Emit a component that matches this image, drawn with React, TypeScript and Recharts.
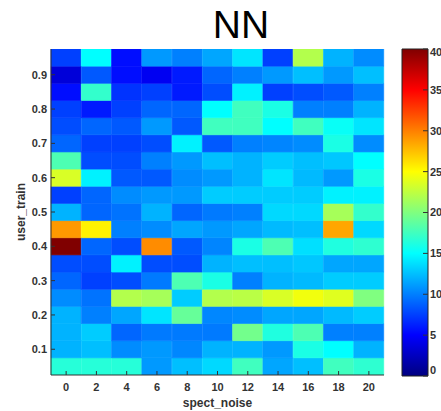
import React from 'react';
import { BarChart, Bar, XAxis, YAxis, Cell } from 'recharts';

// spect_noise categories (columns) and user_train rows (bottom to top)
const xCats = ['0', '2', '4', '6', '8', '10', '12', '14', '16', '18', '20'];
const yRows = [0.05, 0.1, 0.15, 0.2, 0.25, 0.3, 0.35, 0.4, 0.45, 0.5, 0.55, 0.6, 0.65, 0.7, 0.75, 0.8, 0.85, 0.9, 0.95];
const yTicks = [0.1, 0.2, 0.3, 0.4, 0.5, 0.6, 0.7, 0.8, 0.9];
const cbTicks = [0, 5, 10, 15, 20, 25, 30, 35, 40];

// cell values per row
const r05 = [16.5, 16.5, 16.5, 11, 12.5, 13.5, 17.5, 11.5, 12.5, 17.5, 16.8];
const r10 = [12, 12.5, 10.5, 11, 10.3, 12, 12, 11, 16, 15, 12];
const r15 = [12, 13, 9, 9.8, 9.8, 9.8, 19.5, 16.2, 18, 10, 10];
const r20 = [12, 10, 11.5, 14, 19, 10.3, 10.5, 11.5, 11.5, 12.3, 13];
const r25 = [10.5, 9.5, 22, 21.5, 13, 22, 22.3, 23.5, 24.5, 23.8, 20];
const r30 = [9, 7.5, 8, 9.8, 18, 16, 10, 12, 12.3, 13, 13];
const r35 = [8, 8, 14.5, 8, 8, 12, 12.5, 12.5, 12.8, 11.5, 11.5];
const r40 = [40, 9, 8, 29.5, 8.5, 10.2, 16, 18, 13.8, 16.2, 16.8];
const r45 = [29, 25.5, 10, 10.5, 11.5, 11, 11.5, 12.3, 12.5, 28.5, 13.5];
const r50 = [12, 9, 9.5, 12, 9, 9.8, 10, 13.5, 13.5, 21.5, 17];
const r55 = [7.5, 9, 10.5, 11, 11, 13, 13, 13, 13, 14.5, 14.5];
const r60 = [23.5, 14.5, 8.5, 8.5, 10.5, 11, 12, 14, 12.3, 11, 16];
const r65 = [18, 8, 8, 10, 11, 12.5, 12, 13, 12.5, 12.8, 15];
const r70 = [9, 7.5, 7.5, 8, 14.5, 8.5, 10, 10.2, 10.5, 16, 10.5];
const r75 = [8, 9, 8.5, 11, 8.5, 17.5, 17.5, 15, 17.5, 15.3, 14];
const r80 = [7.5, 6, 7.5, 9, 9, 15, 17.5, 16, 10, 10, 12];
const r85 = [5.5, 17, 7, 7.5, 6, 8, 14.5, 7.5, 8, 8.5, 10];
const r90 = [3.5, 8.5, 5.5, 4.5, 6, 9, 10, 11, 12.5, 11, 12.5];
const r95 = [7.5, 15, 5.5, 11, 10, 11.5, 14, 7.5, 22, 12, 10.5];
const rows = [r05, r10, r15, r20, r25, r30, r35, r40, r45, r50, r55, r60, r65, r70, r75, r80, r85, r90, r95];

const cMax = cbTicks[cbTicks.length - 1];

// matlab jet colormap
const jet = (v: number) => {
  const t = Math.min(1, Math.max(0, v / cMax));
  const ch = (c: number) => Math.round(255 * Math.min(1, Math.max(0, 1.5 - Math.abs(4 * t - c))));
  return `rgb(${ch(3)},${ch(2)},${ch(1)})`;
};

const step = yRows[1] - yRows[0];
const yLo = yRows[0] - step / 2;
const yHi = yRows[yRows.length - 1] + step / 2;

const tableData = xCats.map((x) => {
  const d: Record<string, number | string> = { x, base: yLo };
  yRows.forEach((_, i) => {
    d['r' + i] = step;
  });
  return d;
});

const cbData = [{ name: 'cb', v: cMax }];
const gradStops = [0, 0.125, 0.375, 0.625, 0.875, 1];

const tickStyle = {
  fill: '#333',
  fontSize: 11,
  fontWeight: 'bold',
  fontFamily: 'Liberation Sans, Arial, sans-serif',
};
const labelStyle = { ...tickStyle, fontSize: 12 };
const blank = () => '';

const W = 441;
const H = 411;
const mainMargin = { top: 49, right: 57, bottom: 0, left: 0 };
const abs = (left: number): React.CSSProperties => ({ position: 'absolute', left, top: 0 });

// the cells, axes only reserve space here
const Cells = () => (
  <BarChart width={W} height={H} data={tableData} margin={mainMargin} barCategoryGap={0} barGap={0}>
    <Bar dataKey="base" stackId="s" xAxisId="b" yAxisId="l" fill="none" isAnimationActive={false} />
    {yRows.map((y, ri) => (
      <Bar key={y} dataKey={'r' + ri} stackId="s" xAxisId="b" yAxisId="l" isAnimationActive={false}>
        {xCats.map((x, ci) => (
          <Cell key={x} fill={jet(rows[ri][ci])} stroke={jet(rows[ri][ci])} strokeWidth={0.6} />
        ))}
      </Bar>
    ))}
    <XAxis dataKey="x" xAxisId="b" height={36} tick={false} tickLine={false} axisLine={false} />
    <YAxis yAxisId="l" type="number" domain={[yLo, yHi]} allowDataOverflow width={51} tick={false} tickLine={false} axisLine={false} />
  </BarChart>
);

// box, inward ticks and labels drawn over the cells
const Frame = () => (
  <BarChart width={W} height={H} data={tableData} margin={mainMargin} barCategoryGap={0} barGap={0}>
    <Bar dataKey="base" xAxisId="b" yAxisId="l" fill="none" isAnimationActive={false} />
    <Bar dataKey="base" xAxisId="t" yAxisId="r" fill="none" isAnimationActive={false} />
    <XAxis
      dataKey="x"
      xAxisId="b"
      interval={0}
      height={36}
      tickSize={-4}
      tickMargin={12}
      tick={tickStyle}
      stroke="#333"
      label={{ value: 'spect_noise', position: 'insideBottom', offset: 4, style: labelStyle }}
    />
    <XAxis dataKey="x" xAxisId="t" orientation="top" interval={0} height={0} tickSize={-4} tickFormatter={blank} stroke="#333" />
    <YAxis
      yAxisId="l"
      type="number"
      domain={[yLo, yHi]}
      allowDataOverflow
      ticks={yTicks}
      width={51}
      tickSize={-4}
      tickMargin={8}
      tick={tickStyle}
      stroke="#333"
      label={{
        value: 'user_train',
        angle: -90,
        position: 'insideLeft',
        offset: 21,
        style: { ...labelStyle, textAnchor: 'middle' },
      }}
    />
    <YAxis
      yAxisId="r"
      orientation="right"
      type="number"
      domain={[yLo, yHi]}
      allowDataOverflow
      ticks={yTicks}
      width={0}
      tickSize={-4}
      tickFormatter={blank}
      stroke="#333"
    />
  </BarChart>
);

const cbMargin = { top: 49, right: 0, bottom: 35, left: 22 };

// end labels of the colour bar sit slightly inside, like matlab draws them
const CbTick = (props: any) => {
  const { x, y, payload } = props;
  const v = payload.value;
  const shift = v === cbTicks[0] ? -6 : v === cMax ? 3 : 0;
  return (
    <text x={x} y={y + shift} dy="0.355em" textAnchor="start" style={tickStyle}>
      {v}
    </text>
  );
};

const ColorBar = () => (
  <BarChart width={61} height={H} data={cbData} margin={{ ...cbMargin, right: 13 }} barCategoryGap={0}>
    <defs>
      <linearGradient id="jetGrad" x1="0" y1="1" x2="0" y2="0">
        {gradStops.map((s) => (
          <stop key={s} offset={s} stopColor={jet(s * cMax)} />
        ))}
      </linearGradient>
    </defs>
    <Bar dataKey="v" yAxisId="cl" fill="url(#jetGrad)" stroke="#222" isAnimationActive={false} />
    <XAxis dataKey="name" hide />
    <YAxis yAxisId="cl" domain={[0, cMax]} width={0} tick={false} tickLine={false} axisLine={false} />
  </BarChart>
);

const ColorBarTicks = () => (
  <BarChart width={61} height={H} data={cbData} margin={cbMargin} barCategoryGap={0}>
    <Bar dataKey="v" yAxisId="cl" fill="none" isAnimationActive={false} />
    <Bar dataKey="v" yAxisId="cr" fill="none" isAnimationActive={false} />
    <XAxis dataKey="name" hide />
    <YAxis yAxisId="cl" domain={[0, cMax]} ticks={cbTicks} width={0} tickSize={-5} tickFormatter={blank} axisLine={false} stroke="#333" />
    <YAxis
      yAxisId="cr"
      orientation="right"
      domain={[0, cMax]}
      ticks={cbTicks}
      width={13}
      tickSize={-5}
      tickMargin={7}
      tick={<CbTick />}
      axisLine={false}
      stroke="#333"
    />
  </BarChart>
);

export default function App() {
  return (
    <div>
      <div
        style={{
          position: 'absolute',
          left: 141,
          top: 3,
          width: 200,
          textAlign: 'center',
          fontFamily: 'Liberation Sans, Arial, sans-serif',
          fontSize: 39,
          lineHeight: '44px',
          color: '#000',
        }}
      >
        NN
      </div>
      <div style={abs(0)}>
        <Cells />
      </div>
      <div style={abs(0)}>
        <Frame />
      </div>
      <div style={abs(380)}>
        <ColorBar />
      </div>
      <div style={abs(380)}>
        <ColorBarTicks />
      </div>
    </div>
  );
}
